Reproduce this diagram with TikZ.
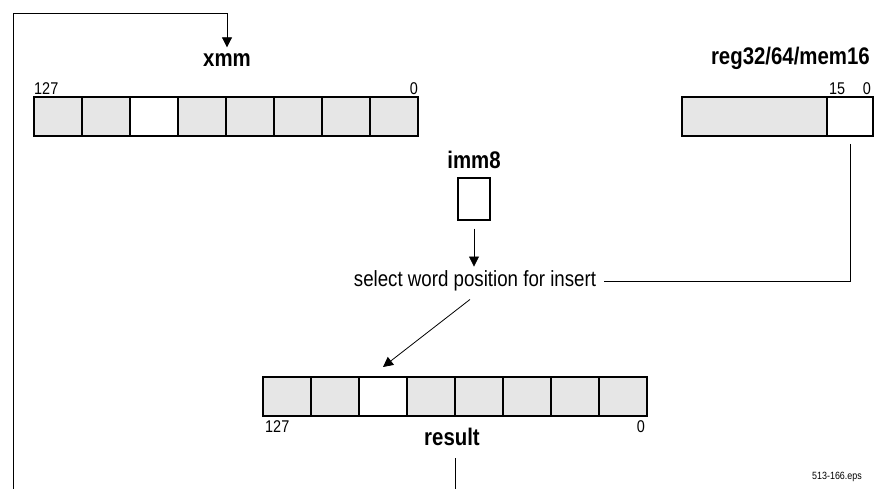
\documentclass[tikz,border=0pt]{standalone}
\usepackage{fontspec}
\setmainfont{Liberation Sans}[FakeStretch=0.85]
\usetikzlibrary{positioning, arrows.meta}
\definecolor{cellgray}{RGB}{230, 230, 230}

\begin{document}
\begin{tikzpicture}[x=1pt, y=-1pt,
    cell/.style={draw, line width=1.6pt, fill=cellgray, minimum width=48pt, minimum height=39pt, inner sep=0pt, outer sep=0pt, anchor=north west},
    reglabel/.style={font=\bfseries\fontsize{24}{26}\selectfont, inner sep=0pt},
    bitnum/.style={font=\fontsize{17}{19}\selectfont, inner sep=2pt},
    arr/.style={line width=0.8pt, -{Triangle[length=10pt, width=10pt]}},
    link/.style={line width=0.8pt}]
    \useasboundingbox (0,0) rectangle (879,489);

    % xmm source register
    \foreach \i/\f in {0/cellgray, 1/cellgray, 2/white, 3/cellgray, 4/cellgray, 5/cellgray, 6/cellgray, 7/cellgray}
        \node[cell, fill=\f] (x\i) at ({34+48*\i}, 97) {};
    \node[reglabel] (xmmlbl) at (227, 60) {xmm};
    \node[bitnum, anchor=south west, inner xsep=0pt] (xhi) at (x0.north west) {127};
    \node[bitnum, anchor=south east, inner xsep=0pt] (xlo) at (x7.north east) {0};

    % reg32/64/mem16 source
    \node[cell, minimum width=145pt] (rhi) at (682, 97) {};
    \node[cell, fill=white, minimum width=46pt, anchor=west] (rlo) at (rhi.east) {};
    \node[reglabel, anchor=east] (reglbl) at (870, 58) {reg32/64/mem16};
    \node[bitnum, anchor=south west] (rbit15) at (rlo.north west) {15};
    \node[bitnum, anchor=south east] (rbit0) at (rlo.north east) {0};

    % imm8 operand
    \node[draw, line width=1.3pt, minimum width=32pt, minimum height=42pt, inner sep=0pt] (imm) at (474, 199) {};
    \node[reglabel, above=8pt of imm] (immlbl) {imm8};
    \node[font=\fontsize{22}{24}\selectfont, inner sep=2pt] (sel) at (475, 281) {select word position for insert};

    % result register
    \foreach \i/\f in {0/cellgray, 1/cellgray, 2/white, 3/cellgray, 4/cellgray, 5/cellgray, 6/cellgray, 7/cellgray}
        \node[cell, fill=\f] (r\i) at ({263+48*\i}, 377) {};
    \node[bitnum, anchor=north west] (reshi) at ([yshift=-2pt]r0.south west) {127};
    \node[bitnum, anchor=north east] (reslo) at ([yshift=-2pt]r7.south east) {0};
    \node[reglabel] (reslbl) at (452, 437) {result};
    \node[font=\fontsize{10.5}{12}\selectfont] (epsname) at (837, 477) {513-166.eps};

    % connectors
    \coordinate (loopin) at (13, 489);
    \coordinate (looptop) at (13, 13);
    \coordinate (resout) at (455, 489);
    \draw[arr] (loopin) -- (looptop) -| ([yshift=6pt]xmmlbl.north);
    \draw[arr] ([yshift=-8pt]imm.south) -- ([yshift=2pt]imm.south |- sel.north);
    \draw[link] ([yshift=-8pt]rlo.south) |- ([xshift=6pt]sel.east);
    \draw[arr] ([xshift=-5pt, yshift=-6pt]sel.south) -- ([yshift=10pt]r2.north);
    \draw[link] ([yshift=-12pt]reslbl.south -| resout) -- (resout);
\end{tikzpicture}
\end{document}
